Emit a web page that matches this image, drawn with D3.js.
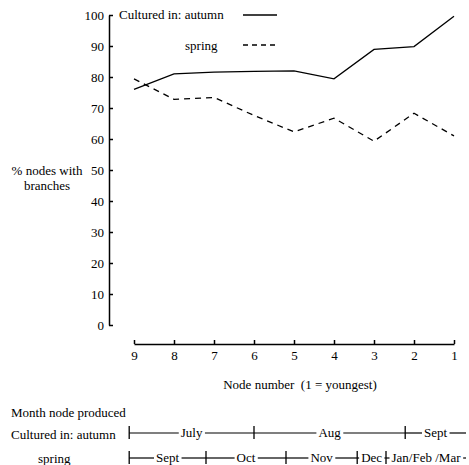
<!DOCTYPE html>
<html>
<head>
<meta charset="utf-8">
<script src="https://cdn.jsdelivr.net/npm/d3@7"></script>
<style>
  body { margin: 0; background: #fff; }
  svg { display: block; font-family: "Liberation Serif", "DejaVu Serif", serif; }
  .axis path, .axis line { stroke: #000; stroke-width: 1.5; }
  .axis text { font-size: 13px; fill: #000; font-family: "Liberation Serif", serif; }
</style>
</head>
<body>
<svg id="chart" width="469" height="465"></svg>
<script>
// node numbers, oldest (9) to youngest (1)
const nodes = [9, 8, 7, 6, 5, 4, 3, 2, 1];
const autumnValues = [76, 81, 81.6, 81.8, 82, 79.4, 88.9, 89.8, 99.6];
const springValues = [79.4, 72.8, 73.4, 67.6, 62.3, 66.7, 59.3, 68.3, 61];
const yTicks = [0, 10, 20, 30, 40, 50, 60, 70, 80, 90, 100];

// month timeline, boundaries given in node units
const autumnMonths = ["July", "Aug", "Sept"];
const autumnBounds = [9.12, 6, 2.22, 0.7];
const springMonths = ["Sept", "Oct", "Nov", "Dec", "Jan/Feb /Mar"];
const springBounds = [9.12, 7.2, 5.2, 3.42, 2.7, 0.7];

const svg = d3.select("#chart");

const x = d3.scaleLinear().domain([9, 1]).range([134, 454]);
const y = d3.scaleLinear().domain([0, 100]).range([325, 15]);

// y axis: labels left, ticks pointing in
svg.append("g")
  .attr("class", "axis")
  .attr("transform", "translate(109,0)")
  .call(d3.axisLeft(y).tickValues(yTicks).tickSize(-4).tickSizeOuter(0).tickPadding(5));

// x axis sits below, detached from y axis
svg.append("g")
  .attr("class", "axis")
  .attr("transform", "translate(0,344)")
  .call(d3.axisBottom(x).tickValues(nodes).tickFormat(d3.format("d")).tickSize(-4).tickSizeOuter(0).tickPadding(7));

const line = d3.line().x((d, i) => x(nodes[i])).y(d => y(d));

svg.append("path")
  .datum(autumnValues)
  .attr("d", line)
  .attr("fill", "none")
  .attr("stroke", "#000")
  .attr("stroke-width", 1.3);

svg.append("path")
  .datum(springValues)
  .attr("d", line)
  .attr("fill", "none")
  .attr("stroke", "#000")
  .attr("stroke-width", 1.3)
  .attr("stroke-dasharray", "6,5");

// legend
const txt = (s, xx, yy, anchor) => svg.append("text")
  .attr("x", xx).attr("y", yy)
  .attr("text-anchor", anchor || "start")
  .attr("font-size", 13)
  .text(s);

txt("Cultured in: autumn", 119, 19);
txt("spring", 185, 50);
svg.append("line").attr("x1", 243).attr("x2", 277).attr("y1", y(100)).attr("y2", y(100))
  .attr("stroke", "#000").attr("stroke-width", 1.3);
svg.append("line").attr("x1", 243).attr("x2", 277).attr("y1", y(90) - 1).attr("y2", y(90) - 1)
  .attr("stroke", "#000").attr("stroke-width", 1.3).attr("stroke-dasharray", "5,4");

// axis titles
txt("% nodes with", 47, 175, "middle");
txt("branches", 47, 190, "middle");
txt("Node number  (1 = youngest)", 300, 389, "middle").style("white-space", "pre");

// month timeline
txt("Month node produced", 11, 417);
txt("Cultured in: autumn", 11, 439);
txt("spring", 38, 463);

function timeline(months, bounds, yy) {
  const g = svg.append("g");
  months.forEach((m, i) => {
    const x0 = x(bounds[i]), x1 = x(bounds[i + 1]);
    const t = g.append("text")
      .attr("x", (x0 + x1) / 2).attr("y", yy + 4)
      .attr("text-anchor", "middle")
      .attr("font-size", 13)
      .text(m);
    const bb = t.node().getBBox();
    const segs = [[x0, bb.x - 2], [bb.x + bb.width + 2, x1]];
    segs.forEach(([a, b]) => {
      if (b > a) g.append("line").attr("x1", a).attr("x2", b).attr("y1", yy).attr("y2", yy)
        .attr("stroke", "#000").attr("stroke-width", 1.2);
    });
  });
  bounds.slice(0, -1).forEach(b => {
    g.append("line").attr("x1", x(b)).attr("x2", x(b)).attr("y1", yy - 7).attr("y2", yy + 6)
      .attr("stroke", "#000").attr("stroke-width", 1.3);
  });
}
timeline(autumnMonths, autumnBounds, 433);
timeline(springMonths, springBounds, 458);
</script>
</body>
</html>
